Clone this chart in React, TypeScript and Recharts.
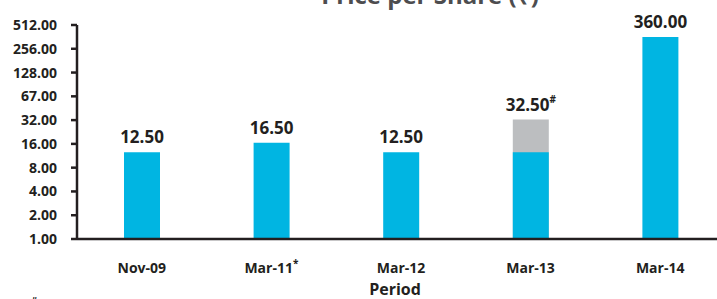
import { BarChart, Bar, XAxis, YAxis, LabelList } from "recharts";

const periods = ["Nov-09", "Mar-11", "Mar-12", "Mar-13", "Mar-14"];
const periodNotes = ["", "*", "", "", ""];
const baseValues = [12.5, 16.5, 12.5, 12.5, 360];
const totalValues: (number | null)[] = [null, null, null, 32.5, null];
const labelNotes = ["", "", "", "#", ""];
const yTicks = [1, 2, 4, 8, 16, 32, 64, 128, 256, 512];
const yTickLabels = ["1.00", "2.00", "4.00", "8.00", "16.00", "32.00", "67.00", "128.00", "256.00", "512.00"];

const data = periods.map((p, i) => ({
    period: p,
    base: baseValues[i],
    total: totalValues[i],
}));

const FONT = "'Open Sans', sans-serif";
const INK = "#231f20";

function PeriodTick(props: any) {
    const { x, y, payload, index } = props;
    return (
        <text x={x} y={y} dy="0.71em" textAnchor="middle" fontFamily={FONT} fontWeight={700} fontSize={14} fill={INK}>
            {payload.value}
            {periodNotes[index] ? (
                <tspan dy={-6} fontSize={10}>
                    {periodNotes[index]}
                </tspan>
            ) : null}
        </text>
    );
}

// base bar has every period, so index is reliable here
const baseLabel = (props: any) => {
    const { x, y, width, index, value } = props;
    if (totalValues[index] != null) return null; // grey bar carries that label
    return (
        <text x={x + width / 2} y={y - 9} textAnchor="middle" fontFamily={FONT} fontWeight={700} fontSize={17} fill={INK}>
            {Number(value).toFixed(2)}
        </text>
    );
};

// grey bar skips nulls, so look the note up by value
const totalLabel = (props: any) => {
    const { x, y, width, value } = props;
    if (value == null) return null;
    const note = labelNotes[totalValues.indexOf(Number(value))] || "";
    return (
        <text x={x + width / 2} y={y - 9} textAnchor="middle" fontFamily={FONT} fontWeight={700} fontSize={17} fill={INK}>
            {Number(value).toFixed(2)}
            {note ? (
                <tspan dy={-8} fontSize={10}>
                    {note}
                </tspan>
            ) : null}
        </text>
    );
};

export default function App() {
    return (
        <div
            style={{
                position: "absolute",
                left: 0,
                top: 0,
                width: 717,
                height: 299,
                overflow: "hidden",
                background: "#fff",
            }}
        >
            <BarChart
                width={725}
                height={299}
                data={data}
                margin={{ top: 25, right: 0, left: 0, bottom: 0 }}
                barSize={36}
                barGap={-36}
            >
                <XAxis
                    dataKey="period"
                    height={60}
                    tickLine={false}
                    tickSize={6}
                    tickMargin={18}
                    axisLine={{ stroke: INK, strokeWidth: 2.5 }}
                    tick={<PeriodTick />}
                    interval={0}
                />
                <YAxis
                    type="number"
                    scale="log"
                    domain={[1, 512]}
                    ticks={yTicks}
                    interval={0}
                    allowDataOverflow
                    width={77}
                    tickSize={6}
                    tickMargin={14}
                    axisLine={{ stroke: INK, strokeWidth: 2.5 }}
                    tickLine={{ stroke: INK, strokeWidth: 2.5 }}
                    tick={{ fill: INK, fontSize: 14, fontWeight: 700, fontFamily: FONT }}
                    tickFormatter={(v: number) => yTickLabels[yTicks.indexOf(v)] ?? String(v)}
                />
                <Bar dataKey="total" fill="#bcbec0" isAnimationActive={false}>
                    <LabelList dataKey="total" content={totalLabel} />
                </Bar>
                <Bar dataKey="base" fill="#00b5e2" isAnimationActive={false}>
                    <LabelList dataKey="base" content={baseLabel} />
                </Bar>
            </BarChart>
            <svg
                width={717}
                height={299}
                style={{ position: "absolute", left: 0, top: 0, pointerEvents: "none" }}
            >
                <text x={430} y={4} textAnchor="middle" fontFamily={FONT} fontWeight={700} fontSize={24} fill="#4d4d4f">
                    Price per Share (₹)
                </text>
                <text x={395} y={295} textAnchor="middle" fontFamily={FONT} fontWeight={700} fontSize={16} fill={INK}>
                    Period
                </text>
                <text x={31} y={305} fontFamily={FONT} fontWeight={700} fontSize={10} fill={INK}>
                    #
                </text>
            </svg>
        </div>
    );
}
